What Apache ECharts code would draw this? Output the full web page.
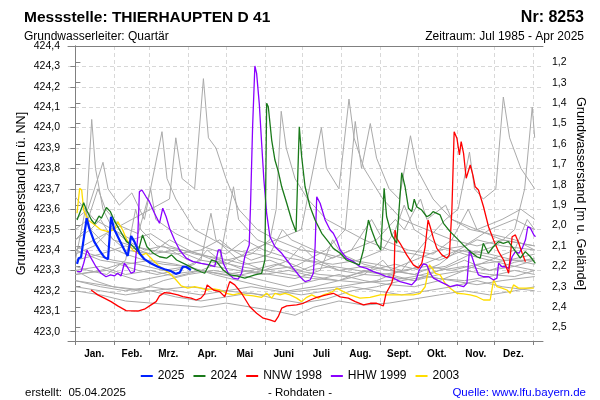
<!DOCTYPE html>
<html>
<head>
<meta charset="utf-8">
<script src="https://cdn.jsdelivr.net/npm/echarts@6/dist/echarts.min.js"></script>
<style>html,body{margin:0;padding:0;background:#fff}#c{width:600px;height:400px}</style>
</head>
<body>
<div id="c"></div>
<script>
// ---- data ----
const monthStarts = [0,31,59,90,120,151,181,212,243,273,304,334,365];
const monthMids = [15,45,74,105,135,166,196,227,258,288,319,349];
const monthLabels = ['Jan.','Feb.','Mrz.','Apr.','Mai','Juni','Juli','Aug.','Sept.','Okt.','Nov.','Dez.'];
const leftTicks = [423.0,423.1,423.2,423.3,423.4,423.5,423.6,423.7,423.8,423.9,424.0,424.1,424.2,424.3,424.4];
const rightTicks = [1.2,1.3,1.4,1.5,1.6,1.7,1.8,1.9,2.0,2.1,2.2,2.3,2.4,2.5];
const groundLevel = 425.52;

const y2025 = [[1.3,423.332],[2.6,423.36],[4.5,423.365],[9,423.556],[11,423.507],[15,423.441],[19,423.40],[23,423.365],[26,423.355],[28.4,423.563],[31,423.50],[35,423.45],[39,423.40],[41.7,423.371],[44.4,423.469],[47,423.441],[51,423.384],[55,423.355],[60,423.335],[65.7,423.318],[71,423.306],[76,423.297],[80,423.283],[83,423.289],[85.6,423.318],[88,423.318],[92,423.302]];

const y2024 = [[1.3,423.547],[6.6,423.632],[8.8,423.596],[12.8,423.547],[15.4,423.528],[18.8,423.567],[20.7,423.556],[24.7,423.608],[27.9,423.588],[31.4,423.539],[35.3,423.498],[40.7,423.441],[44.7,423.425],[50,423.392],[53.5,423.474],[57,423.416],[62,423.384],[67,423.367],[72.6,423.36],[76.6,423.376],[80.6,423.351],[88.6,423.327],[96.5,423.302],[103,423.286],[108.5,423.351],[112.5,423.343],[117.8,423.302],[123,423.278],[128.5,423.273],[135,423.262],[143,423.278],[148.4,423.286],[151,423.351],[152.4,424.119],[153.7,424.102],[156.4,423.939],[159,423.841],[161.7,423.784],[164.4,423.71],[168.4,423.629],[172.3,423.547],[175.8,423.49],[178.4,424.004],[180.3,423.857],[183,423.71],[187,423.612],[191,423.547],[196.3,423.482],[201.5,423.441],[205.5,423.408],[211,423.384],[216,423.351],[223,423.335],[226.3,423.327],[229.5,423.40],[233.5,423.547],[236,423.498],[240,423.433],[243.3,423.40],[246,423.703],[248,423.563],[252,423.474],[256,423.433],[260,423.779],[262.7,423.71],[265.4,423.605],[268,423.588],[270,423.649],[272,423.612],[276,423.596],[280,423.563],[282.7,423.572],[285,423.588],[290.6,423.572],[293.3,423.531],[298.6,423.49],[304,423.457],[309,423.425],[314.6,423.392],[320,423.367],[322.6,423.36],[325,423.433],[329,423.384],[333,423.416],[337,423.441],[341,423.433],[345,423.441],[349,423.408],[354.5,423.36],[358.5,423.392],[362.6,423.367],[366.5,423.335]];

const nnw1998 = [[12.5,423.204],[17.8,423.18],[23,423.164],[28.4,423.147],[33.7,423.126],[40.4,423.103],[49.7,423.101],[55,423.11],[60.3,423.131],[64.3,423.147],[67,423.175],[71,423.191],[76.3,423.188],[81.6,423.18],[85.6,423.171],[92.2,423.164],[96.2,423.155],[100,423.164],[103,423.185],[105,423.229],[110,423.204],[115,423.196],[119,423.171],[123,423.245],[127,423.229],[132.4,423.188],[139,423.122],[144.4,423.09],[149.7,423.066],[155,423.057],[159,423.049],[161.6,423.073],[164.4,423.115],[168.4,423.126],[176.3,423.131],[181.6,423.139],[187,423.155],[192.3,423.168],[200,423.18],[205.5,423.188],[211,423.17],[217.5,423.164],[223,423.147],[229.5,423.131],[235,423.139],[240,423.139],[245.4,423.126],[247.6,423.188],[252,423.237],[254,423.286],[254.7,423.498],[256,423.457],[258.7,423.433],[264,423.376],[269.3,423.327],[273.3,423.311],[276,423.335],[278.7,423.416],[281,423.547],[282.7,423.514],[285.3,423.457],[288,423.408],[292,423.376],[296,423.36],[298,423.376],[300,423.596],[301.8,423.98],[304,423.948],[306,423.866],[307.4,423.931],[309.3,423.874],[311.4,423.752],[312.5,423.76],[314.6,423.817],[316.7,423.768],[318.6,423.71],[321.2,423.694],[325.2,423.612],[329.2,423.514],[333.2,423.449],[337.2,423.392],[341.2,423.351],[345.2,423.286],[346.5,423.367],[348,423.465],[350.6,423.474],[353.3,423.433],[356,423.384],[358.6,423.343]];

const hhw1999 = [[1.3,423.294],[4.5,423.294],[6.6,423.335],[9.3,423.40],[12.5,423.36],[16.4,423.318],[20.4,423.286],[24.4,423.269],[28,423.278],[31,423.273],[33.7,423.286],[36.4,423.273],[39,423.335],[41.2,423.318],[44.4,423.286],[47,423.294],[49.7,423.465],[51,423.686],[53,423.694],[56.3,423.661],[59,423.637],[63,423.58],[67,423.531],[69.6,423.605],[72.3,423.563],[75,423.507],[79,423.449],[83,423.40],[88.3,423.36],[93.6,423.343],[100.2,423.335],[107,423.327],[111,423.318],[113.8,423.40],[115.5,423.40],[117.8,423.335],[121.8,423.286],[125.7,423.262],[129.7,423.257],[132.4,423.286],[135,423.367],[138.5,423.425],[139.6,423.629],[141.2,424.004],[143,424.302],[144.4,424.266],[146.5,424.119],[148.4,423.923],[150.2,423.743],[152.4,423.58],[155,423.465],[159,423.416],[164.4,423.384],[168.4,423.351],[173.6,423.31],[179,423.269],[183,423.245],[187,423.253],[189.6,423.286],[191,423.416],[192.3,423.661],[195,423.629],[199,423.547],[203,423.498],[205.5,423.482],[208.2,423.449],[211,423.40],[216,423.36],[221.5,423.343],[226.8,423.318],[232,423.31],[237.4,423.294],[242.8,423.283],[248,423.269],[253.4,423.262],[258.7,423.245],[264,423.237],[268,423.229],[271.5,423.253],[274,423.302],[277.3,423.332],[280,423.327],[282.7,423.286],[285.3,423.262],[290.6,423.245],[296,423.229],[298.7,423.22],[304,423.229],[309.3,423.22],[312,423.237],[314,423.40],[316,423.367],[318.6,423.318],[321.2,423.278],[325.2,423.269],[329.2,423.269],[333.2,423.253],[335.9,423.262],[337.2,423.335],[339.9,423.318],[342.5,423.318],[345.2,423.31],[348,423.367],[350.6,423.392],[353.3,423.384],[356,423.408],[358.6,423.449],[360.5,423.514],[362.6,423.507],[365.3,423.474],[366.6,423.465]];

const y2003 = [[1.3,423.58],[3.4,423.703],[5,423.694],[6.6,423.596],[10,423.547],[14,423.53],[20,423.5],[26,423.49],[31,423.5],[33.7,423.539],[35,423.547],[37.7,423.498],[40.4,423.457],[43,423.425],[45.7,423.40],[49.7,423.384],[53.7,423.376],[56.3,423.384],[61.7,423.351],[65.7,423.327],[71,423.302],[75,423.286],[80.3,423.253],[84.3,423.224],[89.6,423.213],[95,423.22],[100.2,423.213],[104.5,423.204],[110,423.21],[115,423.204],[120.5,423.188],[125.7,423.18],[131,423.188],[135,423.18],[141.7,423.175],[148.4,423.168],[152.4,423.188],[156.4,423.164],[159,423.188],[163,423.18],[167,423.188],[171,423.18],[176.3,423.164],[180.3,423.147],[184.3,423.168],[188.3,423.18],[193.6,423.164],[197.6,423.18],[201.5,423.188],[205,423.196],[208.2,423.213],[213.5,423.196],[218.8,423.18],[226.8,423.164],[234.8,423.168],[242.8,423.18],[256,423.18],[264,423.18],[269.3,423.18],[274.7,423.188],[278.7,423.22],[282.1,423.327],[285.3,423.302],[286.7,423.286],[290.6,423.278],[294.6,423.237],[298.6,423.213],[304,423.188],[309.3,423.185],[314.6,423.18],[320,423.171],[325.2,423.155],[330.5,423.155],[333.2,423.253],[335.9,423.22],[339.9,423.213],[343.9,423.204],[346.5,423.188],[349.1,423.229],[353.1,423.213],[358.6,423.213],[362.6,423.213],[365.3,423.213]];

const grayYears = [
 [[0,423.45],[8,423.5],[13,424.04],[16,423.8],[22,423.6],[30,423.5],[40,423.45],[55,423.4],[70,423.42],[90,423.35],[110,423.32],[130,423.3],[150,423.28],[170,423.3],[190,423.27],[210,423.25],[230,423.3],[250,423.28],[270,423.25],[290,423.3],[310,423.35],[330,423.3],[350,423.32],[366,423.35]],
 [[0,423.55],[10,423.6],[22,423.83],[26,423.7],[35,423.62],[45,423.68],[55,423.55],[69,423.98],[73,423.75],[80,423.65],[95,423.5],[110,423.45],[125,423.4],[145,423.38],[165,423.35],[185,423.3],[205,423.32],[225,423.3],[245,423.28],[265,423.3],[285,423.35],[305,423.4],[320,423.45],[340,423.42],[366,423.4]],
 [[0,423.4],[15,423.45],[30,423.5],[45,423.55],[60,423.6],[75,423.65],[80,423.95],[85,423.75],[95,423.7],[102,424.24],[106,423.95],[112,423.9],[120,423.75],[130,423.6],[145,423.5],[160,423.45],[180,423.4],[200,423.38],[220,423.35],[240,423.33],[260,423.3],[280,423.32],[300,423.3],[320,423.33],[345,423.35],[366,423.38]],
 [[0,423.3],[20,423.32],[40,423.28],[60,423.3],[80,423.27],[100,423.3],[120,423.35],[140,423.38],[155,423.45],[160,423.6],[164,424.08],[168,423.9],[175,423.75],[185,423.65],[200,423.55],[215,423.5],[230,423.45],[250,423.4],[270,423.38],[290,423.35],[310,423.4],[330,423.38],[350,423.35],[366,423.33]],
 [[0,423.35],[20,423.38],[40,423.42],[60,423.38],[80,423.4],[100,423.35],[120,423.33],[140,423.4],[160,423.45],[180,423.5],[196,424.0],[200,423.8],[210,423.7],[218,424.14],[222,423.95],[230,423.8],[245,423.65],[260,423.55],[280,423.5],[300,423.45],[320,423.42],[340,423.45],[366,423.42]],
 [[0,423.28],[25,423.3],[50,423.25],[75,423.28],[100,423.3],[125,423.27],[150,423.3],[175,423.32],[200,423.4],[215,423.5],[223,424.03],[228,423.8],[235,424.02],[240,423.85],[250,423.7],[258,423.65],[267,423.96],[272,423.8],[285,423.65],[300,423.55],[315,423.5],[330,423.48],[350,423.45],[366,423.4]],
 [[0,423.25],[30,423.22],[60,423.2],[90,423.22],[120,423.2],[150,423.18],[180,423.2],[210,423.22],[240,423.25],[260,423.3],[280,423.45],[295,423.55],[305,423.6],[314,423.88],[318,423.7],[325,423.65],[335,423.7],[341,424.15],[346,423.95],[355,423.8],[366,423.7]],
 [[0,423.2],[20,423.18],[40,423.15],[60,423.14],[80,423.13],[100,423.12],[120,423.14],[140,423.12],[160,423.1],[175,423.08],[190,423.12],[210,423.15],[230,423.13],[250,423.14],[270,423.16],[290,423.18],[310,423.2],[330,423.18],[350,423.2],[366,423.22]],
 [[0,423.38],[15,423.42],[25,423.48],[40,423.4],[60,423.38],[75,423.45],[90,423.4],[110,423.35],[130,423.32],[150,423.3],[170,423.35],[180,423.42],[190,423.36],[210,423.3],[230,423.28],[250,423.27],[270,423.25],[290,423.28],[310,423.3],[330,423.28],[350,423.27],[366,423.3]],
 [[0,423.5],[10,423.55],[18,423.7],[24,423.6],[35,423.52],[50,423.48],[60,423.7],[64,423.55],[80,423.48],[100,423.42],[120,423.38],[135,423.45],[150,423.4],[170,423.36],[190,423.34],[210,423.3],[230,423.32],[250,423.3],[270,423.35],[290,423.4],[310,423.42],[330,423.5],[350,423.55],[366,423.5]],
 [[0,423.32],[10,423.3],[25,423.28],[40,423.35],[48,423.6],[52,423.5],[65,423.42],[85,423.4],[100,423.38],[115,423.35],[126,423.71],[130,423.55],[145,423.45],[165,423.4],[185,423.35],[205,423.33],[225,423.35],[245,423.4],[255,423.5],[262,423.62],[270,423.5],[290,423.42],[310,423.38],[330,423.35],[350,423.32],[366,423.3]],
 [[0,423.25],[20,423.22],[40,423.2],[60,423.22],[80,423.2],[100,423.18],[120,423.2],[140,423.22],[160,423.2],[180,423.18],[200,423.2],[220,423.22],[240,423.2],[260,423.18],[280,423.2],[300,423.22],[320,423.25],[340,423.22],[366,423.2]],
 [[0,423.45],[12,423.5],[20,423.55],[30,423.45],[45,423.42],[60,423.4],[80,423.38],[100,423.4],[115,423.45],[125,423.4],[140,423.35],[155,423.38],[165,423.5],[172,423.45],[190,423.4],[205,423.36],[220,423.4],[236,423.55],[245,423.45],[265,423.4],[285,423.38],[300,423.45],[313,423.6],[320,423.5],[340,423.45],[366,423.42]],
 [[0,423.3],[15,423.25],[30,423.22],[50,423.2],[70,423.25],[90,423.28],[110,423.3],[130,423.28],[150,423.25],[170,423.22],[190,423.25],[210,423.28],[230,423.25],[250,423.23],[270,423.22],[290,423.25],[310,423.3],[330,423.35],[350,423.4],[360,423.55],[366,423.5]],
 [[0,423.4],[20,423.35],[40,423.33],[60,423.35],[80,423.33],[100,423.3],[120,423.28],[140,423.3],[160,423.33],[180,423.3],[200,423.35],[220,423.4],[240,423.45],[255,423.55],[262,423.5],[275,423.65],[280,423.55],[295,423.62],[300,423.55],[320,423.5],[340,423.55],[355,423.6],[366,423.55]],
 [[0,423.35],[8,423.6],[12,423.5],[25,423.42],[40,423.38],[55,423.35],[70,423.33],[88,423.32],[100,423.35],[108,423.58],[112,423.45],[130,423.35],[150,423.3],[170,423.28],[190,423.26],[210,423.25],[230,423.24],[250,423.25],[270,423.27],[290,423.3],[310,423.32],[330,423.3],[350,423.34],[366,423.36]],
 [[0,423.66],[5,423.62],[15,423.55],[30,423.5],[45,423.45],[60,423.48],[75,423.42],[95,423.38],[115,423.36],[135,423.33],[155,423.35],[175,423.3],[195,423.28],[215,423.27],[235,423.3],[255,423.33],[275,423.3],[295,423.32],[315,423.38],[335,423.42],[350,423.5],[358,423.7],[364,424.1],[366,423.95]],
 [[0,423.28],[20,423.3],[35,423.33],[50,423.3],[65,423.28],[80,423.3],[95,423.33],[105,423.4],[115,423.35],[135,423.3],[155,423.28],[175,423.26],[195,423.3],[205,423.45],[212,423.38],[230,423.33],[250,423.3],[270,423.28],[290,423.26],[310,423.25],[330,423.27],[350,423.3],[366,423.28]],
 [[0,423.42],[12,423.38],[30,423.35],[50,423.33],[70,423.3],[90,423.32],[110,423.28],[130,423.25],[150,423.22],[170,423.2],[190,423.22],[210,423.25],[230,423.28],[245,423.35],[252,423.3],[270,423.28],[290,423.33],[305,423.4],[320,423.38],[340,423.35],[366,423.35]],
 [[0,423.22],[20,423.2],[40,423.18],[60,423.2],[80,423.17],[100,423.15],[120,423.17],[140,423.19],[160,423.16],[180,423.14],[200,423.16],[220,423.2],[240,423.22],[260,423.25],[280,423.27],[300,423.25],[320,423.23],[340,423.25],[366,423.27]]
];

// ---- chart ----
const X_MIN = -5.9, X_MAX = 372.6;
const Y_MIN = 422.954, Y_MAX = 424.4;
const FONT = 'Liberation Sans, Arial, sans-serif';
const fmt = v => v.toFixed(1).replace('.', ',');

const series = [];
grayYears.forEach(d => series.push({
  type: 'line', data: d, symbol: 'none', silent: true,
  lineStyle: { color: '#aaaaaa', width: 1 }, z: 1
}));
const main = [
  ['2003', y2003, '#ffdd00', 1.3],
  ['HHW 1999', hhw1999, '#8a00ff', 1.3],
  ['NNW 1998', nnw1998, '#ff0000', 1.3],
  ['2024', y2024, '#1a7a1a', 1.3],
  ['2025', y2025, '#0022ff', 2.2]
];
main.forEach(([n, d, c, w], i) => series.push({
  name: n, type: 'line', data: d, symbol: 'none',
  lineStyle: { color: c, width: w }, itemStyle: { color: c }, z: 3 + i
}));

const chart = echarts.init(document.getElementById('c'), null, { renderer: 'canvas' });
chart.setOption({
  animation: false,
  backgroundColor: '#ffffff',
  textStyle: { fontFamily: FONT },
  title: [
    { text: 'Messstelle: THIERHAUPTEN D 41', left: 19, top: 5, textStyle: { fontSize: 15.5, fontWeight: 'bold', color: '#000', fontFamily: FONT } },
    { text: 'Nr: 8253', right: 11, top: 5, textStyle: { fontSize: 16, fontWeight: 'bold', color: '#000', fontFamily: FONT } },
    { text: 'Grundwasserleiter: Quartär', left: 19, top: 26, textStyle: { fontSize: 12, fontWeight: 'normal', color: '#000', fontFamily: FONT } },
    { text: 'Zeitraum: Jul 1985 - Apr 2025', right: 11, top: 26, textStyle: { fontSize: 12, fontWeight: 'normal', color: '#000', fontFamily: FONT } },
    { text: 'erstellt:  05.04.2025', left: 20, top: 382, textStyle: { fontSize: 11.5, fontWeight: 'normal', color: '#000', fontFamily: FONT } },
    { text: '- Rohdaten -', left: 'center', top: 382, textStyle: { fontSize: 11.5, fontWeight: 'normal', color: '#000', fontFamily: FONT } },
    { text: 'Quelle: www.lfu.bayern.de', right: 9, top: 382, textStyle: { fontSize: 11.5, fontWeight: 'normal', color: '#0000ff', fontFamily: FONT } }
  ],
  legend: {
    data: ['2025', '2024', 'NNW 1998', 'HHW 1999', '2003'],
    top: 365, left: 'center', icon: 'rect', itemWidth: 12, itemHeight: 2, itemGap: 9,
    textStyle: { fontSize: 12, color: '#000', fontFamily: FONT }
  },
  grid: { left: 68, right: 57, top: 46, bottom: 59, containLabel: false },
  xAxis: [{
    type: 'value', min: X_MIN, max: X_MAX, position: 'bottom',
    axisLine: { show: true, lineStyle: { color: '#808080', width: 1 } },
    axisTick: { show: true, customValues: monthStarts, length: 4, lineStyle: { color: '#808080' } },
    axisLabel: {
      customValues: monthMids, fontSize: 10, fontWeight: 'bold', color: '#000', margin: 8,
      formatter: v => monthLabels[monthMids.indexOf(v)] || ''
    },
    splitLine: { show: true, lineStyle: { color: '#d8d8d8', type: [4, 3], width: 1 } }
  }, {
    type: 'value', min: X_MIN, max: X_MAX, position: 'top',
    axisLine: { show: true, lineStyle: { color: '#808080', width: 1 } },
    axisTick: { show: false }, axisLabel: { show: false }, splitLine: { show: false }
  }],
  yAxis: [{
    type: 'value', min: Y_MIN, max: Y_MAX, position: 'left',
    name: 'Grundwasserstand [m ü. NN]', nameLocation: 'middle', nameGap: 40, nameRotate: 90,
    nameMoveOverlap: false,
    nameTextStyle: { fontSize: 12.7, color: '#000', fontFamily: FONT },
    axisLine: { show: true, lineStyle: { color: '#808080', width: 1 } },
    axisTick: { show: true, customValues: leftTicks, length: 5, lineStyle: { color: '#808080' } },
    axisLabel: { customValues: leftTicks, fontSize: 10.5, color: '#000', margin: 8, formatter: v => fmt(v) },
    splitLine: { show: true, lineStyle: { color: '#d8d8d8', type: [4, 3], width: 1 } }
  }, {
    type: 'value', min: groundLevel - Y_MAX, max: groundLevel - Y_MIN, inverse: true, position: 'right',
    name: 'Grundwasserstand [m u. Gelände]', nameLocation: 'middle', nameGap: 31, nameRotate: -90,
    nameMoveOverlap: false,
    nameTextStyle: { fontSize: 12.7, color: '#000', fontFamily: FONT },
    axisLine: { show: true, lineStyle: { color: '#808080', width: 1 } },
    axisTick: { show: true, customValues: rightTicks, length: 5, lineStyle: { color: '#808080' } },
    axisLabel: { customValues: rightTicks, fontSize: 10.5, color: '#000', margin: 9, formatter: v => fmt(v) },
    splitLine: { show: false }
  }],
  series: series
});
</script>
</body>
</html>
